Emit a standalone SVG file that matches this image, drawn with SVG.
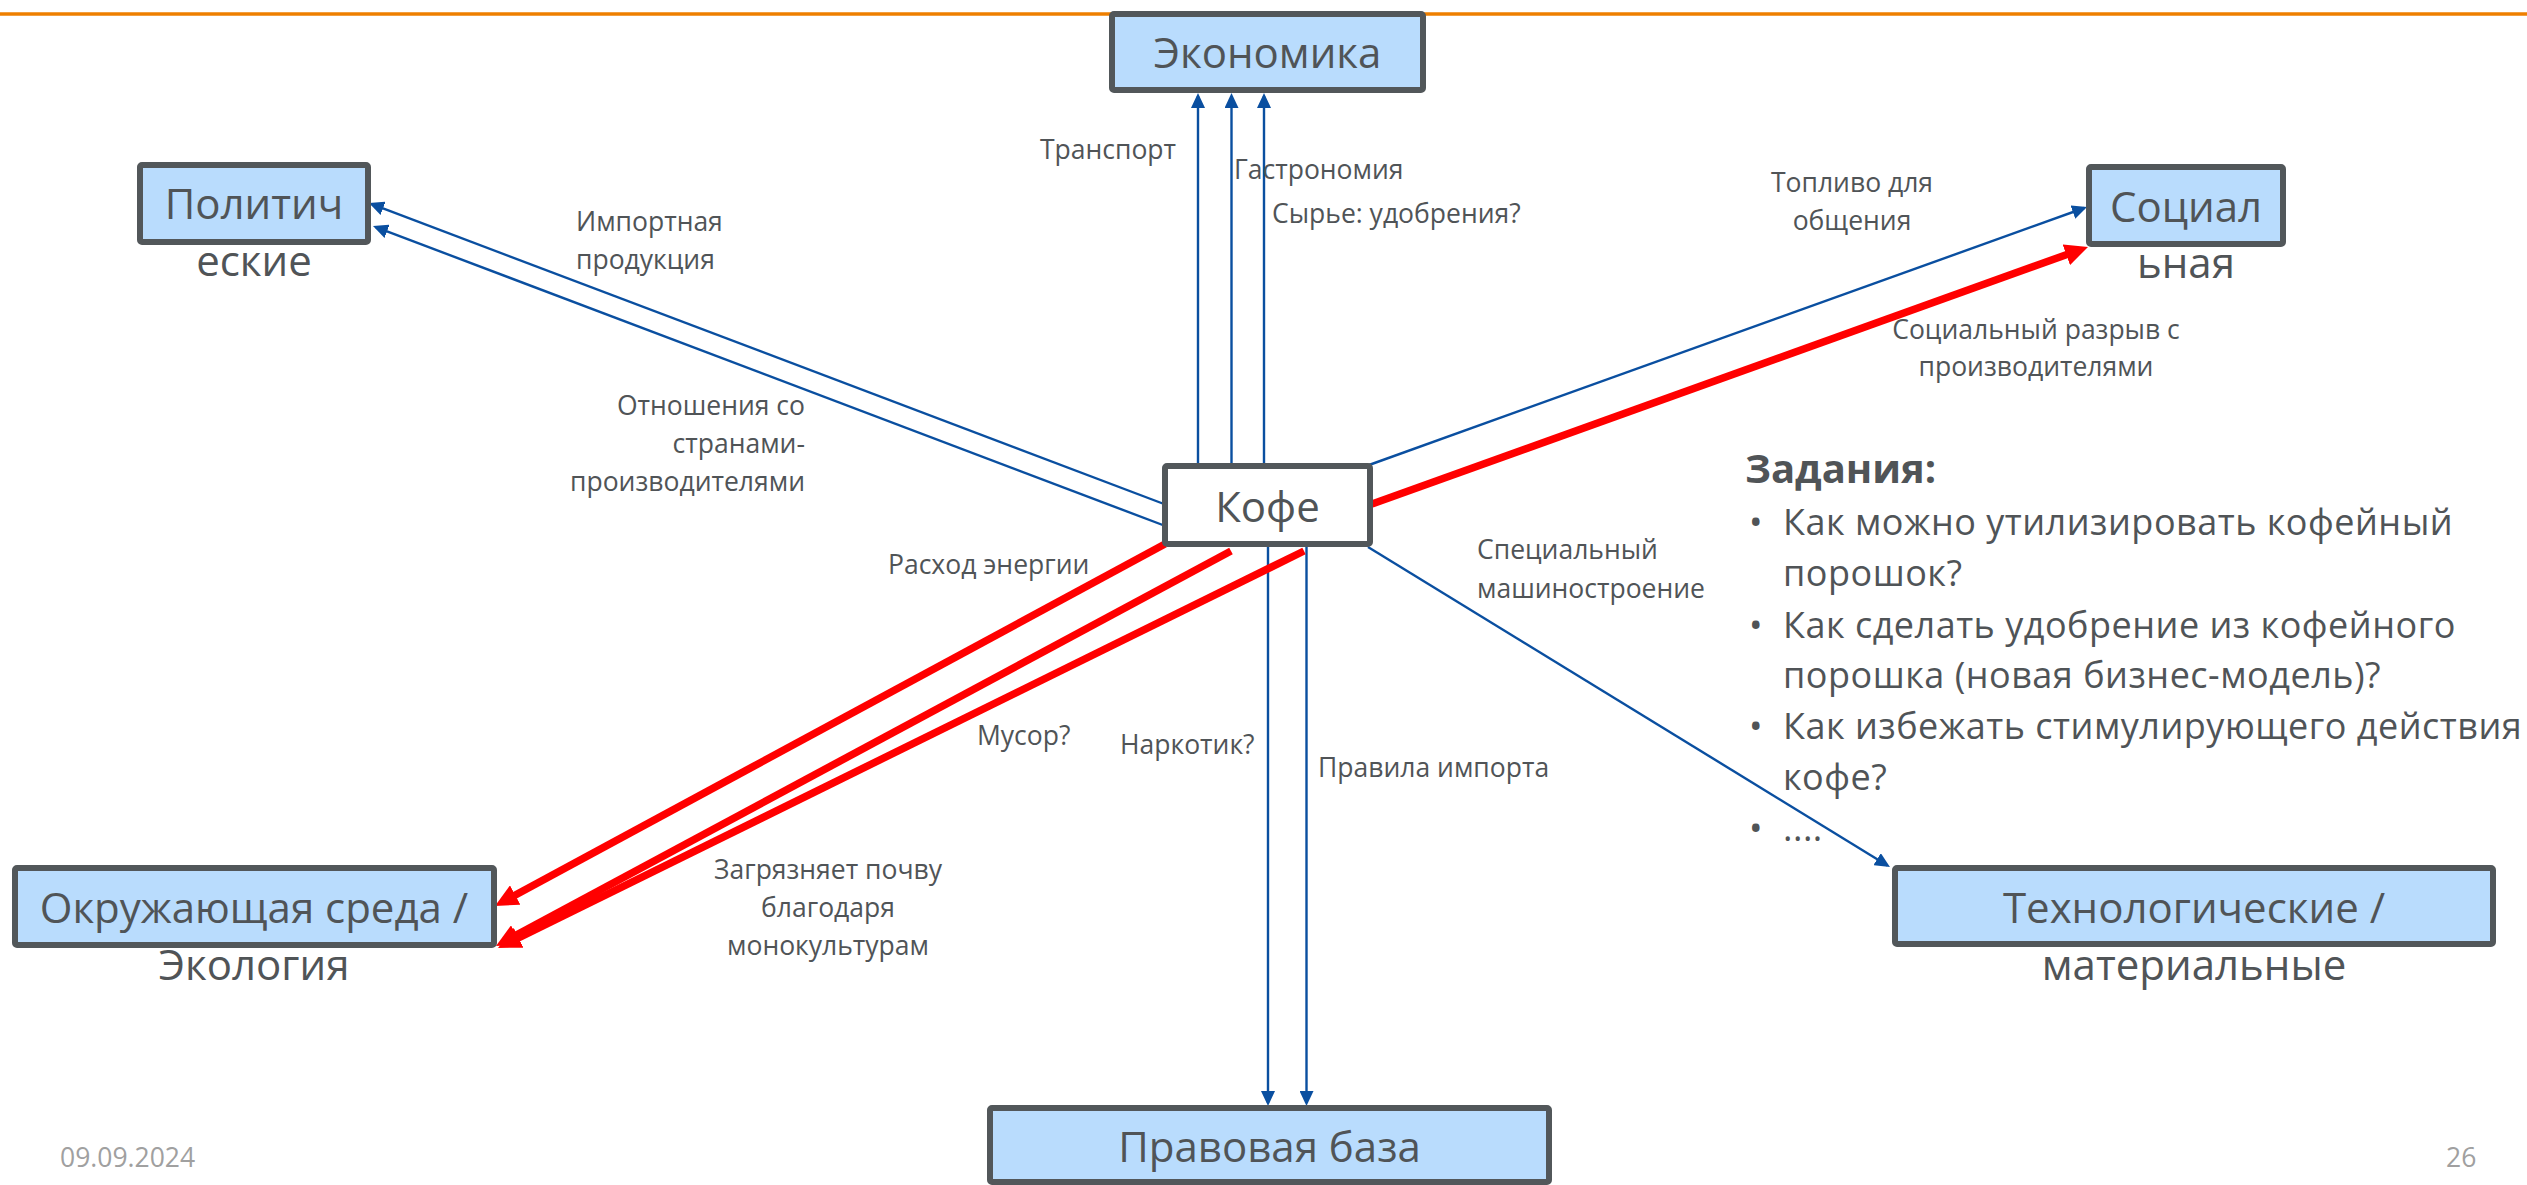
<svg xmlns="http://www.w3.org/2000/svg" width="2527" height="1185" viewBox="0 0 2527 1185">
  <style>
    .node { fill: #b9dcfd; stroke: #52575a; stroke-width: 6; }
    .core { fill: #ffffff; stroke: #52575a; stroke-width: 6; }
    .ntext { font-family: "Open Sans", "Noto Sans", sans-serif; font-size: 42px; fill: #505457; text-anchor: middle; }
    .lbl { font-family: "Open Sans", "Noto Sans", sans-serif; font-size: 26.5px; fill: #505457; }
    .mid { text-anchor: middle; }
    .end { text-anchor: end; }
    .blue { stroke: #0a4fa0; stroke-width: 2.4; fill: none; marker-end: url(#ab); }
    .red { stroke: #ff0000; stroke-width: 7.5; fill: none; marker-end: url(#ar); }
    .task { font-family: "Open Sans", "Noto Sans", sans-serif; font-size: 36px; letter-spacing: 0.5px; fill: #505457; }
    .head { font-family: "Open Sans", "Noto Sans", sans-serif; font-size: 40px; font-weight: bold; fill: #505457; }
    .foot { font-family: "Open Sans", "Noto Sans", sans-serif; font-size: 26.5px; fill: #a0a0a0; }
  </style>
  <defs>
    <marker id="ab" viewBox="0 0 15 14" refX="12" refY="7" markerWidth="15" markerHeight="14" markerUnits="userSpaceOnUse" orient="auto">
      <path d="M0,0 L15,7 L0,14 z" fill="#0a4fa0"/>
    </marker>
    <marker id="ar" viewBox="0 0 23 22" refX="14" refY="11" markerWidth="23" markerHeight="22" markerUnits="userSpaceOnUse" orient="auto">
      <path d="M0,0 L23,11 L0,22 z" fill="#ff0000"/>
    </marker>
  </defs>

  <rect width="2527" height="1185" fill="#ffffff"/>
  <line x1="0" y1="14" x2="2527" y2="14" stroke="#ee7f00" stroke-width="3.5"/>

  <g id="connectors">
    <line class="blue" x1="1164" y1="504" x2="371.8" y2="204.1"/>
    <line class="blue" x1="1168" y1="527" x2="375.8" y2="227.1"/>
    <line class="blue" x1="1198" y1="466" x2="1198" y2="96"/>
    <line class="blue" x1="1231.5" y1="466" x2="1231.5" y2="96"/>
    <line class="blue" x1="1264" y1="466" x2="1264" y2="96"/>
    <line class="blue" x1="1369" y1="465" x2="2084.2" y2="208"/>
    <line class="blue" x1="1368" y1="547" x2="1887.4" y2="865.4"/>
    <line class="blue" x1="1268" y1="545" x2="1268" y2="1103"/>
    <line class="blue" x1="1306.5" y1="545" x2="1306.5" y2="1103"/>
    <line class="red" x1="1372" y1="504" x2="2079.5" y2="250"/>
    <line class="red" x1="1165" y1="544" x2="502.9" y2="901.7"/>
    <line class="red" x1="1231" y1="551" x2="503.9" y2="941.7"/>
    <line class="red" x1="1304" y1="551" x2="506.1" y2="944"/>
  </g>

  <g id="labels">
    <text class="lbl" x="1040" y="159">Транспорт</text>
    <text class="lbl" x="1234" y="179">Гастрономия</text>
    <text class="lbl" x="1272" y="223">Сырье: удобрения?</text>
    <text class="lbl" x="576" y="231">Импортная</text>
    <text class="lbl" x="576" y="269">продукция</text>
    <text class="lbl end" x="805" y="415">Отношения со</text>
    <text class="lbl end" x="805" y="453">странами-</text>
    <text class="lbl end" x="805" y="491">производителями</text>
    <text class="lbl mid" x="1852" y="192">Топливо для</text>
    <text class="lbl mid" x="1852" y="230">общения</text>
    <text class="lbl mid" x="2036" y="339">Социальный разрыв с</text>
    <text class="lbl mid" x="2036" y="376">производителями</text>
    <text class="lbl" x="888" y="574">Расход энергии</text>
    <text class="lbl" x="1477" y="559">Специальный</text>
    <text class="lbl" x="1477" y="598">машиностроение</text>
    <text class="lbl" x="977" y="745">Мусор?</text>
    <text class="lbl" x="1120" y="754">Наркотик?</text>
    <text class="lbl" x="1318" y="777">Правила импорта</text>
    <text class="lbl mid" x="828" y="879">Загрязняет почву</text>
    <text class="lbl mid" x="828" y="917">благодаря</text>
    <text class="lbl mid" x="828" y="955">монокультурам</text>
  </g>

  <g id="node-economy">
    <rect class="node" x="1112" y="14" width="311" height="76" rx="2"/>
    <text class="ntext" x="1267.5" y="68">Экономика</text>
  </g>
  <g id="node-politics">
    <rect class="node" x="140" y="165" width="228" height="77" rx="2"/>
    <text class="ntext" x="254" y="219">Политич</text>
    <text class="ntext" x="254" y="276">еские</text>
  </g>
  <g id="node-social">
    <rect class="node" x="2089" y="167" width="194" height="77" rx="2"/>
    <text class="ntext" x="2186" y="222">Социал</text>
    <text class="ntext" x="2186" y="278">ьная</text>
  </g>
  <g id="node-coffee">
    <rect class="core" x="1165" y="466" width="205" height="78" rx="2"/>
    <text class="ntext" x="1267.5" y="522">Кофе</text>
  </g>
  <g id="node-tech">
    <rect class="node" x="1895" y="868" width="598" height="76" rx="2"/>
    <text class="ntext" x="2194" y="923">Технологические /</text>
    <text class="ntext" x="2194" y="980">материальные</text>
  </g>
  <g id="node-ecology">
    <rect class="node" x="15" y="868" width="479" height="77" rx="2"/>
    <text class="ntext" x="254" y="923">Окружающая среда /</text>
    <text class="ntext" x="254" y="980">Экология</text>
  </g>
  <g id="node-legal">
    <rect class="node" x="990" y="1108" width="559" height="74" rx="2"/>
    <text class="ntext" x="1269.5" y="1162">Правовая база</text>
  </g>

  <g id="tasks">
    <text class="head" x="1745" y="483">Задания:</text>
    <text class="task" x="1749" y="535">•</text>
    <text class="task" x="1783" y="535">Как можно утилизировать кофейный</text>
    <text class="task" x="1783" y="586">порошок?</text>
    <text class="task" x="1749" y="638">•</text>
    <text class="task" x="1783" y="638">Как сделать удобрение из кофейного</text>
    <text class="task" x="1783" y="688">порошка (новая бизнес-модель)?</text>
    <text class="task" x="1749" y="739">•</text>
    <text class="task" x="1783" y="739">Как избежать стимулирующего действия</text>
    <text class="task" x="1783" y="790">кофе?</text>
    <text class="task" x="1749" y="841">•</text>
    <text class="task" x="1783" y="841">....</text>
  </g>

  <g id="footer">
    <text class="foot" x="60" y="1167">09.09.2024</text>
    <text class="foot" x="2446" y="1167">26</text>
  </g>
</svg>
